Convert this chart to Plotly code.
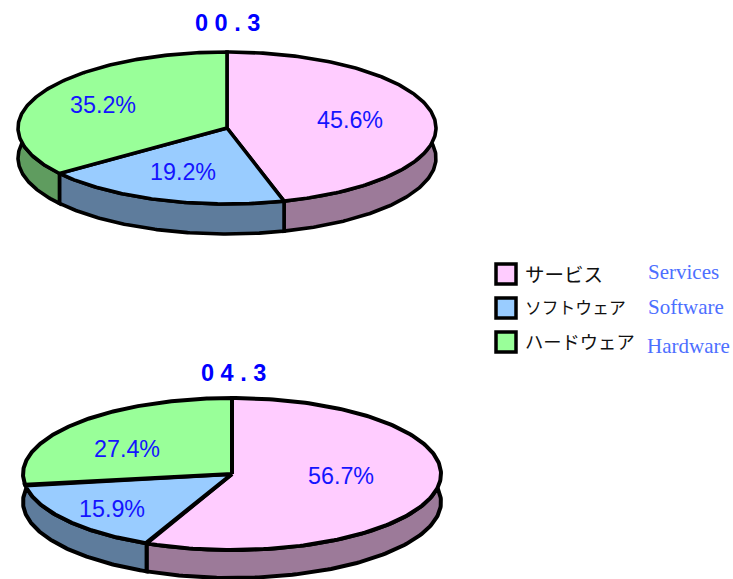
import numpy as np
import plotly.graph_objects as go

categories_ja = ["サービス", "ソフトウェア", "ハードウェア"]
categories_en = ["Services", "Software", "Hardware"]
titles = ["0 0 . 3", "0 4 . 3"]
values_2000 = [45.6, 19.2, 35.2]
values_2004 = [56.7, 15.9, 27.4]

top_colors = ["#ffccff", "#99ccff", "#99ff99"]
side_colors = ["#9c7a99", "#5e7c9c", "#5f9c5f"]
RX, RY = 209, 76
BLUE = "#1414ff"

pies = [
    dict(values=values_2000, cx=227, cy=128, depth=30, lw=3.6, title=titles[0], tx=227, ty=23,
         lx=[350, 183, 103], ly=[120, 172, 104.5]),
    dict(values=values_2004, cx=232, cy=474, depth=28, lw=4.0, title=titles[1], tx=233, ty=373,
         lx=[340.5, 111.5, 126.5], ly=[476, 509, 448.5]),
]

fig = go.Figure()


def ell(p, ang, dy=0):
    return p["cx"] + RX * np.sin(ang), p["cy"] - RY * np.cos(ang) + dy


def poly(x, y, fill, lw):
    fig.add_trace(go.Scatter(x=x, y=y, mode="lines", fill="toself", fillcolor=fill,
                             line=dict(color="black", width=lw, shape="linear"),
                             hoverinfo="skip", showlegend=False, cliponaxis=False))


annotations = []
for p in pies:
    edges = np.radians(np.concatenate([[0], np.cumsum(p["values"])]) / sum(p["values"]) * 360)
    d = p["depth"]
    # the rim is the same ellipse shifted down; it meets the top ellipse halfway down
    top_lo = np.arccos(-d / (2 * RY))
    top_hi = 2 * np.pi - top_lo
    low_lo = np.arccos(d / (2 * RY))
    low_hi = 2 * np.pi - low_lo
    for i in range(3):
        e0, e1 = edges[i], edges[i + 1]
        a0, a1 = max(e0, top_lo), min(e1, top_hi)
        if a1 <= a0:
            continue
        b0 = e0 if e0 > top_lo else low_lo
        b1 = e1 if e1 < top_hi else low_hi
        xt, yt = ell(p, np.linspace(a0, a1, 120))
        xb, yb = ell(p, np.linspace(b1, b0, 120), d)
        poly(np.r_[xt, xb, xt[0]], np.r_[yt, yb, yt[0]], side_colors[i], p["lw"])
    for i in range(3):
        t = np.linspace(edges[i], edges[i + 1], 200)
        x, y = ell(p, t)
        poly(np.r_[p["cx"], x, p["cx"]], np.r_[p["cy"], y, p["cy"]], top_colors[i], p["lw"])
        annotations.append(dict(x=p["lx"][i], y=p["ly"][i], text=f"{p['values'][i]:.1f}%", showarrow=False,
                                font=dict(family="Liberation Sans", size=23.3, color=BLUE)))
    annotations.append(dict(x=p["tx"], y=p["ty"], text=f"<b>{p['title']}</b>", showarrow=False,
                            font=dict(family="Liberation Sans", size=23.5, color="#0000ff")))

legend_y = [274, 308, 342]
ja_y = [273, 307, 341]
ja_size = [19.5, 16.8, 18.3]
en_y = [272, 307, 346]
en_x = [646, 646, 645]
fig.add_trace(go.Scatter(x=[506] * 3, y=legend_y, mode="markers", hoverinfo="skip", showlegend=False,
                         marker=dict(symbol="square", size=20, color=top_colors,
                                     line=dict(color="black", width=3.5))))
for i in range(3):
    annotations.append(dict(x=523, y=ja_y[i], text=categories_ja[i], showarrow=False, xanchor="left",
                            font=dict(family="Noto Sans CJK JP", size=ja_size[i], color="#111111")))
    annotations.append(dict(x=en_x[i], y=en_y[i], text=categories_en[i], showarrow=False, xanchor="left",
                            font=dict(family="Liberation Serif", size=21, color="#4d6fff")))

fig.update_layout(
    width=733, height=579, margin=dict(l=0, r=0, t=0, b=0),
    paper_bgcolor="white", plot_bgcolor="white", showlegend=False, annotations=annotations,
    xaxis=dict(range=[0, 733], visible=False, fixedrange=True),
    yaxis=dict(range=[579, 0], visible=False, fixedrange=True),
)
fig.write_html("out.html", config={"displayModeBar": False},
               post_script="document.body.style.margin='0';document.body.style.overflow='hidden';")
